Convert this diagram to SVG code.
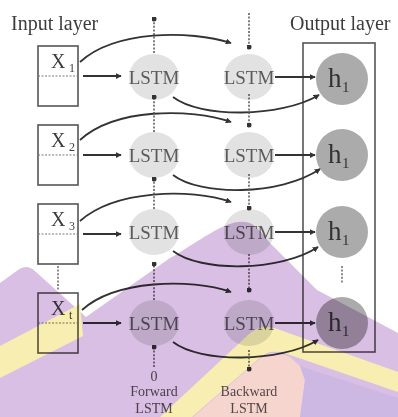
<svg xmlns="http://www.w3.org/2000/svg" width="398" height="417" viewBox="0 0 398 417">
<style>
text{font-family:"Liberation Serif","DejaVu Serif",serif;}
.title{font-size:20px;fill:#3c3c3c;}
.xbox{fill:#fff;stroke:#555;stroke-width:1.6;}
.div{stroke:#777;stroke-width:1.2;stroke-dasharray:2 1.5;}
.xl{font-size:20px;fill:#3c3c3c;}
.xs{font-size:12px;fill:#3c3c3c;}
.lstm{fill:#e2e2e2;}
.lt{font-size:19px;fill:#5a5a5a;text-anchor:middle;}
.hc{fill:#ababab;}
.ht{font-size:27px;fill:#333;}
.hs{font-size:15px;fill:#333;}
.arr{fill:none;stroke:#333;stroke-width:1.8;marker-end:url(#ah);}
.dv{fill:none;stroke:#555;stroke-width:1.5;stroke-dasharray:2 1.6;marker-end:url(#dot);}
.dl{fill:none;stroke:#666;stroke-width:1.5;stroke-dasharray:2 1.6;}
.small{font-size:14px;fill:#555;text-anchor:middle;}
</style>
<defs>
<marker id="ah" viewBox="0 0 8 8" refX="7" refY="4" markerWidth="6" markerHeight="6" markerUnits="userSpaceOnUse" orient="auto"><path d="M0,0 L8,4 L0,8 z" fill="#333"/></marker>
<marker id="dot" viewBox="0 0 6 6" refX="3" refY="3" markerWidth="5" markerHeight="5" markerUnits="userSpaceOnUse"><circle cx="3" cy="3" r="3" fill="#333"/></marker>
</defs>
<rect width="398" height="417" fill="#fff"/>

<text class="title" x="11" y="30">Input layer</text>
<text class="title" x="290" y="30">Output layer</text>

<g id="output-layer"><rect x="303" y="43" width="72" height="309" fill="none" stroke="#555" stroke-width="1.6"/></g>

<g id="x1"><rect class="xbox" x="38" y="46" width="40" height="60"/><line class="div" x1="38" y1="76" x2="78" y2="76"/><text class="xl" x="51" y="68">X</text><text class="xs" x="69" y="72">1</text></g>
<g id="x2"><rect class="xbox" x="38" y="125" width="40" height="60"/><line class="div" x1="38" y1="155" x2="78" y2="155"/><text class="xl" x="51" y="147">X</text><text class="xs" x="69" y="151">2</text></g>
<g id="x3"><rect class="xbox" x="38" y="204" width="40" height="60"/><line class="div" x1="38" y1="234" x2="78" y2="234"/><text class="xl" x="51" y="226">X</text><text class="xs" x="69" y="230">3</text></g>
<g id="xt"><rect class="xbox" x="38" y="293" width="40" height="60"/><line class="div" x1="38" y1="323" x2="78" y2="323"/><text class="xl" x="51" y="315">X</text><text class="xs" x="69" y="319">t</text></g>

<g id="f1"><ellipse class="lstm" cx="154" cy="77" rx="25" ry="23"/><text class="lt" x="154" y="84">LSTM</text></g>
<g id="f2"><ellipse class="lstm" cx="154" cy="155" rx="25" ry="23"/><text class="lt" x="154" y="162">LSTM</text></g>
<g id="f3"><ellipse class="lstm" cx="154" cy="232" rx="25" ry="23"/><text class="lt" x="154" y="239">LSTM</text></g>
<g id="f4"><ellipse class="lstm" cx="154" cy="323" rx="25" ry="23"/><text class="lt" x="154" y="330">LSTM</text></g>

<g id="b1"><ellipse class="lstm" cx="249" cy="77" rx="25" ry="23"/><text class="lt" x="249" y="84">LSTM</text></g>
<g id="b2"><ellipse class="lstm" cx="249" cy="155" rx="25" ry="23"/><text class="lt" x="249" y="162">LSTM</text></g>
<g id="b3"><ellipse class="lstm" cx="249" cy="232" rx="25" ry="23"/><text class="lt" x="249" y="239">LSTM</text></g>
<g id="b4"><ellipse class="lstm" cx="249" cy="323" rx="25" ry="23"/><text class="lt" x="249" y="330">LSTM</text></g>

<g id="h1"><circle class="hc" cx="342" cy="79" r="26"/><text class="ht" x="328" y="87">h</text><text class="hs" x="342" y="92">1</text></g>
<g id="h2"><circle class="hc" cx="342" cy="155" r="26"/><text class="ht" x="328" y="163">h</text><text class="hs" x="342" y="168">1</text></g>
<g id="h3"><circle class="hc" cx="342" cy="232" r="26"/><text class="ht" x="328" y="240">h</text><text class="hs" x="342" y="245">1</text></g>
<g id="h4"><circle class="hc" cx="342" cy="323" r="26"/><text class="ht" x="328" y="331">h</text><text class="hs" x="342" y="336">1</text></g>

<g id="labels">
<text class="small" x="154" y="381">0</text>
<text class="small" x="154" y="396">Forward</text>
<text class="small" x="154" y="413">LSTM</text>
<text class="small" x="249" y="396">Backward</text>
<text class="small" x="249" y="413">LSTM</text>
</g>

<g id="connectors">
<path class="arr" d="M83,76 H121"/>
<path class="arr" d="M83,155 H121"/>
<path class="arr" d="M83,234 H121"/>
<path class="arr" d="M83,323 H121"/>
<path class="arr" d="M80,62 C115,30 190,30 231,43"/>
<path class="arr" d="M80,140 C115,108 190,108 231,122"/>
<path class="arr" d="M80,221 C115,190 190,188 231,202"/>
<path class="arr" d="M82,310 C115,280 190,278 231,292"/>
<path class="arr" d="M275,77 H315"/>
<path class="arr" d="M275,155 H315"/>
<path class="arr" d="M275,232 H315"/>
<path class="arr" d="M275,323 H315"/>
<path class="arr" d="M173,97 C200,118 280,118 319,95"/>
<path class="arr" d="M173,175 C200,196 280,196 320,169"/>
<path class="arr" d="M173,251 C200,272 280,272 318,247"/>
<path class="arr" d="M173,342 C200,363 280,363 318,340"/>
<path class="dv" d="M154,53 V19"/>
<path class="dv" d="M154,132 V97"/>
<path class="dv" d="M154,209 V179"/>
<path class="dv" d="M154,300 V264"/>
<path class="dv" d="M154,367 V347"/>
<path class="dv" d="M249,13 V47"/>
<path class="dv" d="M249,94 V125"/>
<path class="dv" d="M249,174 V208"/>
<path class="dv" d="M249,254 V290"/>
<path class="dv" d="M249,350 V369"/>
<path class="dl" d="M58,266 V290"/>
<path class="dl" d="M342,266 V284"/>
</g>

<g id="watermark" style="mix-blend-mode:multiply">
<path fill="#d8bfe3" d="M0,283 L18,270 Q27,263 36,272 L86,317 L170,258 C205,238 232,214 252,224 Q260,230 270,243 L317,290 L398,333 L398,417 L0,417 Z"/>
<path fill="#f8eeb2" d="M0,346 L80,304 L83,336 L0,378 Z"/>
<path fill="#f8eeb2" d="M160,417 L248,335 Q262,322 280,330 L398,372 L398,392 L290,355 Q272,348 262,356 L192,417 Z"/>
<path fill="#f6d5cf" d="M193,417 L263,356 Q272,350 290,357 L300,366 L305,380 L300,417 Z"/>
<path fill="#cdb8e4" d="M305,380 L300,366 L398,398 L398,417 L300,417 Z"/>
</g>
</svg>
